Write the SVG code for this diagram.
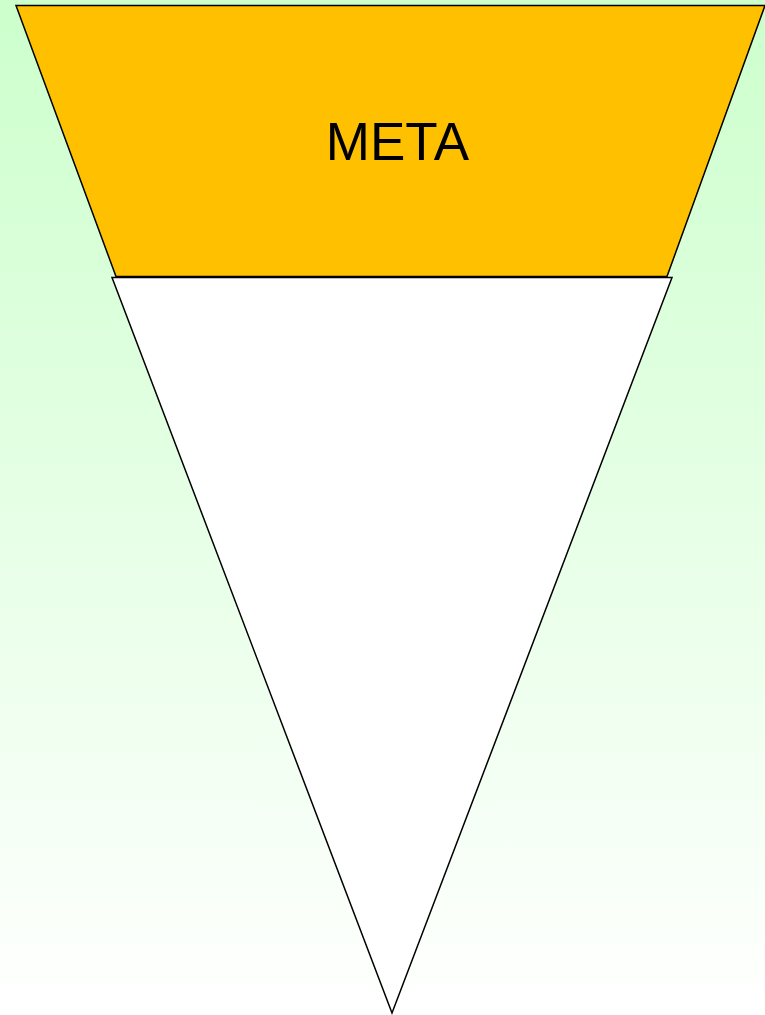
<svg xmlns="http://www.w3.org/2000/svg" width="765" height="1015" viewBox="0 0 765 1015">
<defs>
<linearGradient id="bg" x1="0" y1="0" x2="0" y2="1">
<stop offset="0" stop-color="#CCFFCC"/>
<stop offset="1" stop-color="#FFFFFF"/>
</linearGradient>
<style>
.shape{stroke:#000;stroke-width:1.5;stroke-linejoin:miter}
.lbl{font-family:"Liberation Sans",Arial,sans-serif;font-size:53px;fill:#000}
</style>
</defs>
<rect x="0" y="0" width="765" height="1015" fill="url(#bg)"/>
<g id="meta">
<polygon class="shape" points="16,5.5 765,5.5 667,276.5 116,276.5" fill="#FFC000"/>
<text class="lbl" x="397.5" y="159.5" text-anchor="middle">META</text>
</g>
<g id="base">
<polygon class="shape" points="112,277.5 672,277.5 392,1013" fill="#FFFFFF"/>
</g>
<g id="connectors"></g>
</svg>
